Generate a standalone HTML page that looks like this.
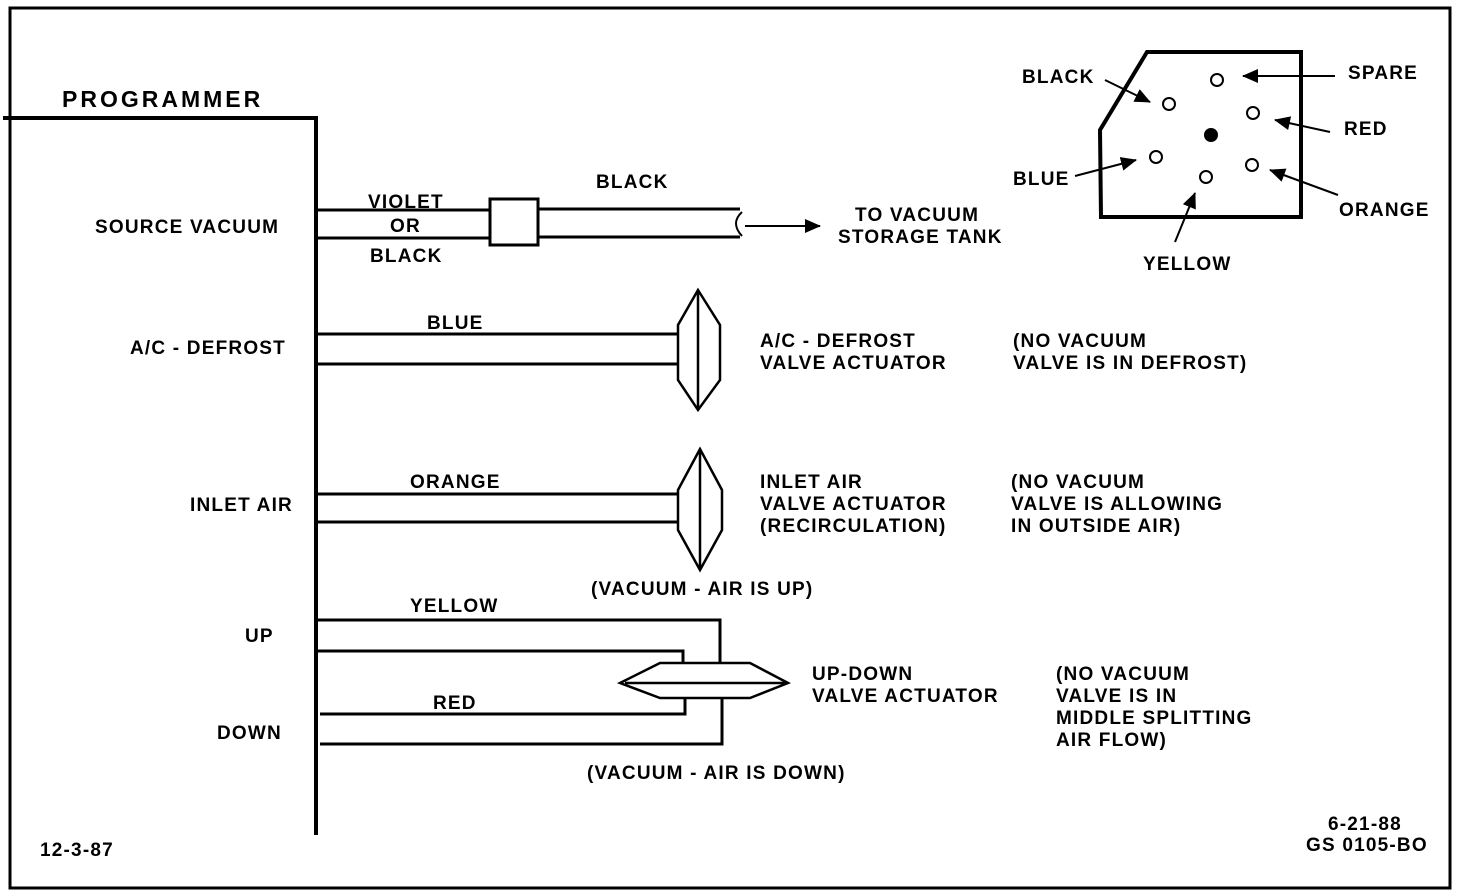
<!DOCTYPE html>
<html><head><style>
body{margin:0;background:#fff}
svg{display:block}
text{font-family:"Liberation Sans",sans-serif;font-weight:bold;font-size:19px;letter-spacing:1.2px;fill:#000}
</style></head><body>
<svg width="1472" height="896" viewBox="0 0 1472 896" xmlns="http://www.w3.org/2000/svg">
<defs>
<marker id="b" markerWidth="16" markerHeight="14" refX="15" refY="7" orient="auto" markerUnits="userSpaceOnUse"><path d="M0,0 L16,7 L0,14 z" fill="#000"/></marker></defs>
<g fill="none" stroke="#000">
<rect x="10" y="8" width="1440" height="880" stroke-width="3"/>
<path d="M3,118 H316 V835" stroke-width="4"/>
<g stroke-width="3">
<path d="M316,210 H490 M316,238 H490 M538,209 H740 M538,237 H740"/>
<rect x="490" y="199" width="48" height="46"/>
<path d="M742,212 Q730,223 742,236" stroke-width="2"/>
<line x1="745" y1="226" x2="820" y2="226" stroke-width="2" marker-end="url(#b)"/>
<path d="M316,334 H678 M316,364 H678"/>
<path d="M698,290 L678,325 V380 L698,410 L720,380 V325 Z M698,290 V410" stroke-width="2.5"/>
<path d="M316,494 H678 M316,522 H678"/>
<path d="M700,449 L678,490 V530 L700,570 L722,530 V490 Z M700,449 V570" stroke-width="2.5"/>
<path d="M316,620 H720 V663 M316,651 H683 V663 M320,714 H685 V698 M320,744 H722 V698"/>
<path d="M620,683 L660,663 H750 L788,683 L750,698 H660 Z M625,683 H785" stroke-width="2.5"/>
<path d="M1100,130 L1147,52 H1301 V217 H1101 Z" stroke-width="4"/>
</g>
<g stroke-width="2">
<circle cx="1217" cy="80" r="6"/><circle cx="1169" cy="104" r="6"/><circle cx="1253" cy="113" r="6"/>
<circle cx="1156" cy="157" r="6"/><circle cx="1206" cy="177" r="6"/><circle cx="1252" cy="165" r="6"/>
<line x1="1335" y1="76" x2="1243" y2="76" marker-end="url(#b)"/>
<line x1="1105" y1="80" x2="1150" y2="102" marker-end="url(#b)"/>
<line x1="1330" y1="132" x2="1275" y2="120" marker-end="url(#b)"/>
<line x1="1075" y1="176" x2="1136" y2="160" marker-end="url(#b)"/>
<line x1="1338" y1="195" x2="1270" y2="170" marker-end="url(#b)"/>
<line x1="1175" y1="242" x2="1195" y2="193" marker-end="url(#b)"/>
</g>
</g>
<circle cx="1211" cy="135" r="7" fill="#000"/>
<text x="62" y="107" style="font-size:23px;letter-spacing:3px">PROGRAMMER</text>
<text x="95" y="233">SOURCE VACUUM</text>
<text x="130" y="354">A/C - DEFROST</text>
<text x="190" y="511">INLET AIR</text>
<text x="245" y="642">UP</text>
<text x="217" y="739">DOWN</text>
<text x="368" y="208">VIOLET</text>
<text x="390" y="232">OR</text>
<text x="370" y="262">BLACK</text>
<text x="596" y="188">BLACK</text>
<text x="855" y="221">TO VACUUM</text>
<text x="838" y="243">STORAGE TANK</text>
<text x="427" y="329">BLUE</text>
<text x="760" y="347">A/C - DEFROST</text>
<text x="760" y="369">VALVE ACTUATOR</text>
<text x="1013" y="347">(NO VACUUM</text>
<text x="1013" y="369">VALVE IS IN DEFROST)</text>
<text x="410" y="488">ORANGE</text>
<text x="760" y="488">INLET AIR</text>
<text x="760" y="510">VALVE ACTUATOR</text>
<text x="760" y="532">(RECIRCULATION)</text>
<text x="1011" y="488">(NO VACUUM</text>
<text x="1011" y="510">VALVE IS ALLOWING</text>
<text x="1011" y="532">IN OUTSIDE AIR)</text>
<text x="591" y="595">(VACUUM - AIR IS UP)</text>
<text x="410" y="612">YELLOW</text>
<text x="433" y="709">RED</text>
<text x="812" y="680">UP-DOWN</text>
<text x="812" y="702">VALVE ACTUATOR</text>
<text x="1056" y="680">(NO VACUUM</text>
<text x="1056" y="702">VALVE IS IN</text>
<text x="1056" y="724">MIDDLE SPLITTING</text>
<text x="1056" y="746">AIR FLOW)</text>
<text x="587" y="779">(VACUUM - AIR IS DOWN)</text>
<text x="40" y="856">12-3-87</text>
<text x="1328" y="830">6-21-88</text>
<text x="1306" y="851">GS 0105-BO</text>
<text x="1022" y="83">BLACK</text>
<text x="1348" y="79">SPARE</text>
<text x="1344" y="135">RED</text>
<text x="1013" y="185">BLUE</text>
<text x="1339" y="216">ORANGE</text>
<text x="1143" y="270">YELLOW</text>
</svg>
</body></html>
